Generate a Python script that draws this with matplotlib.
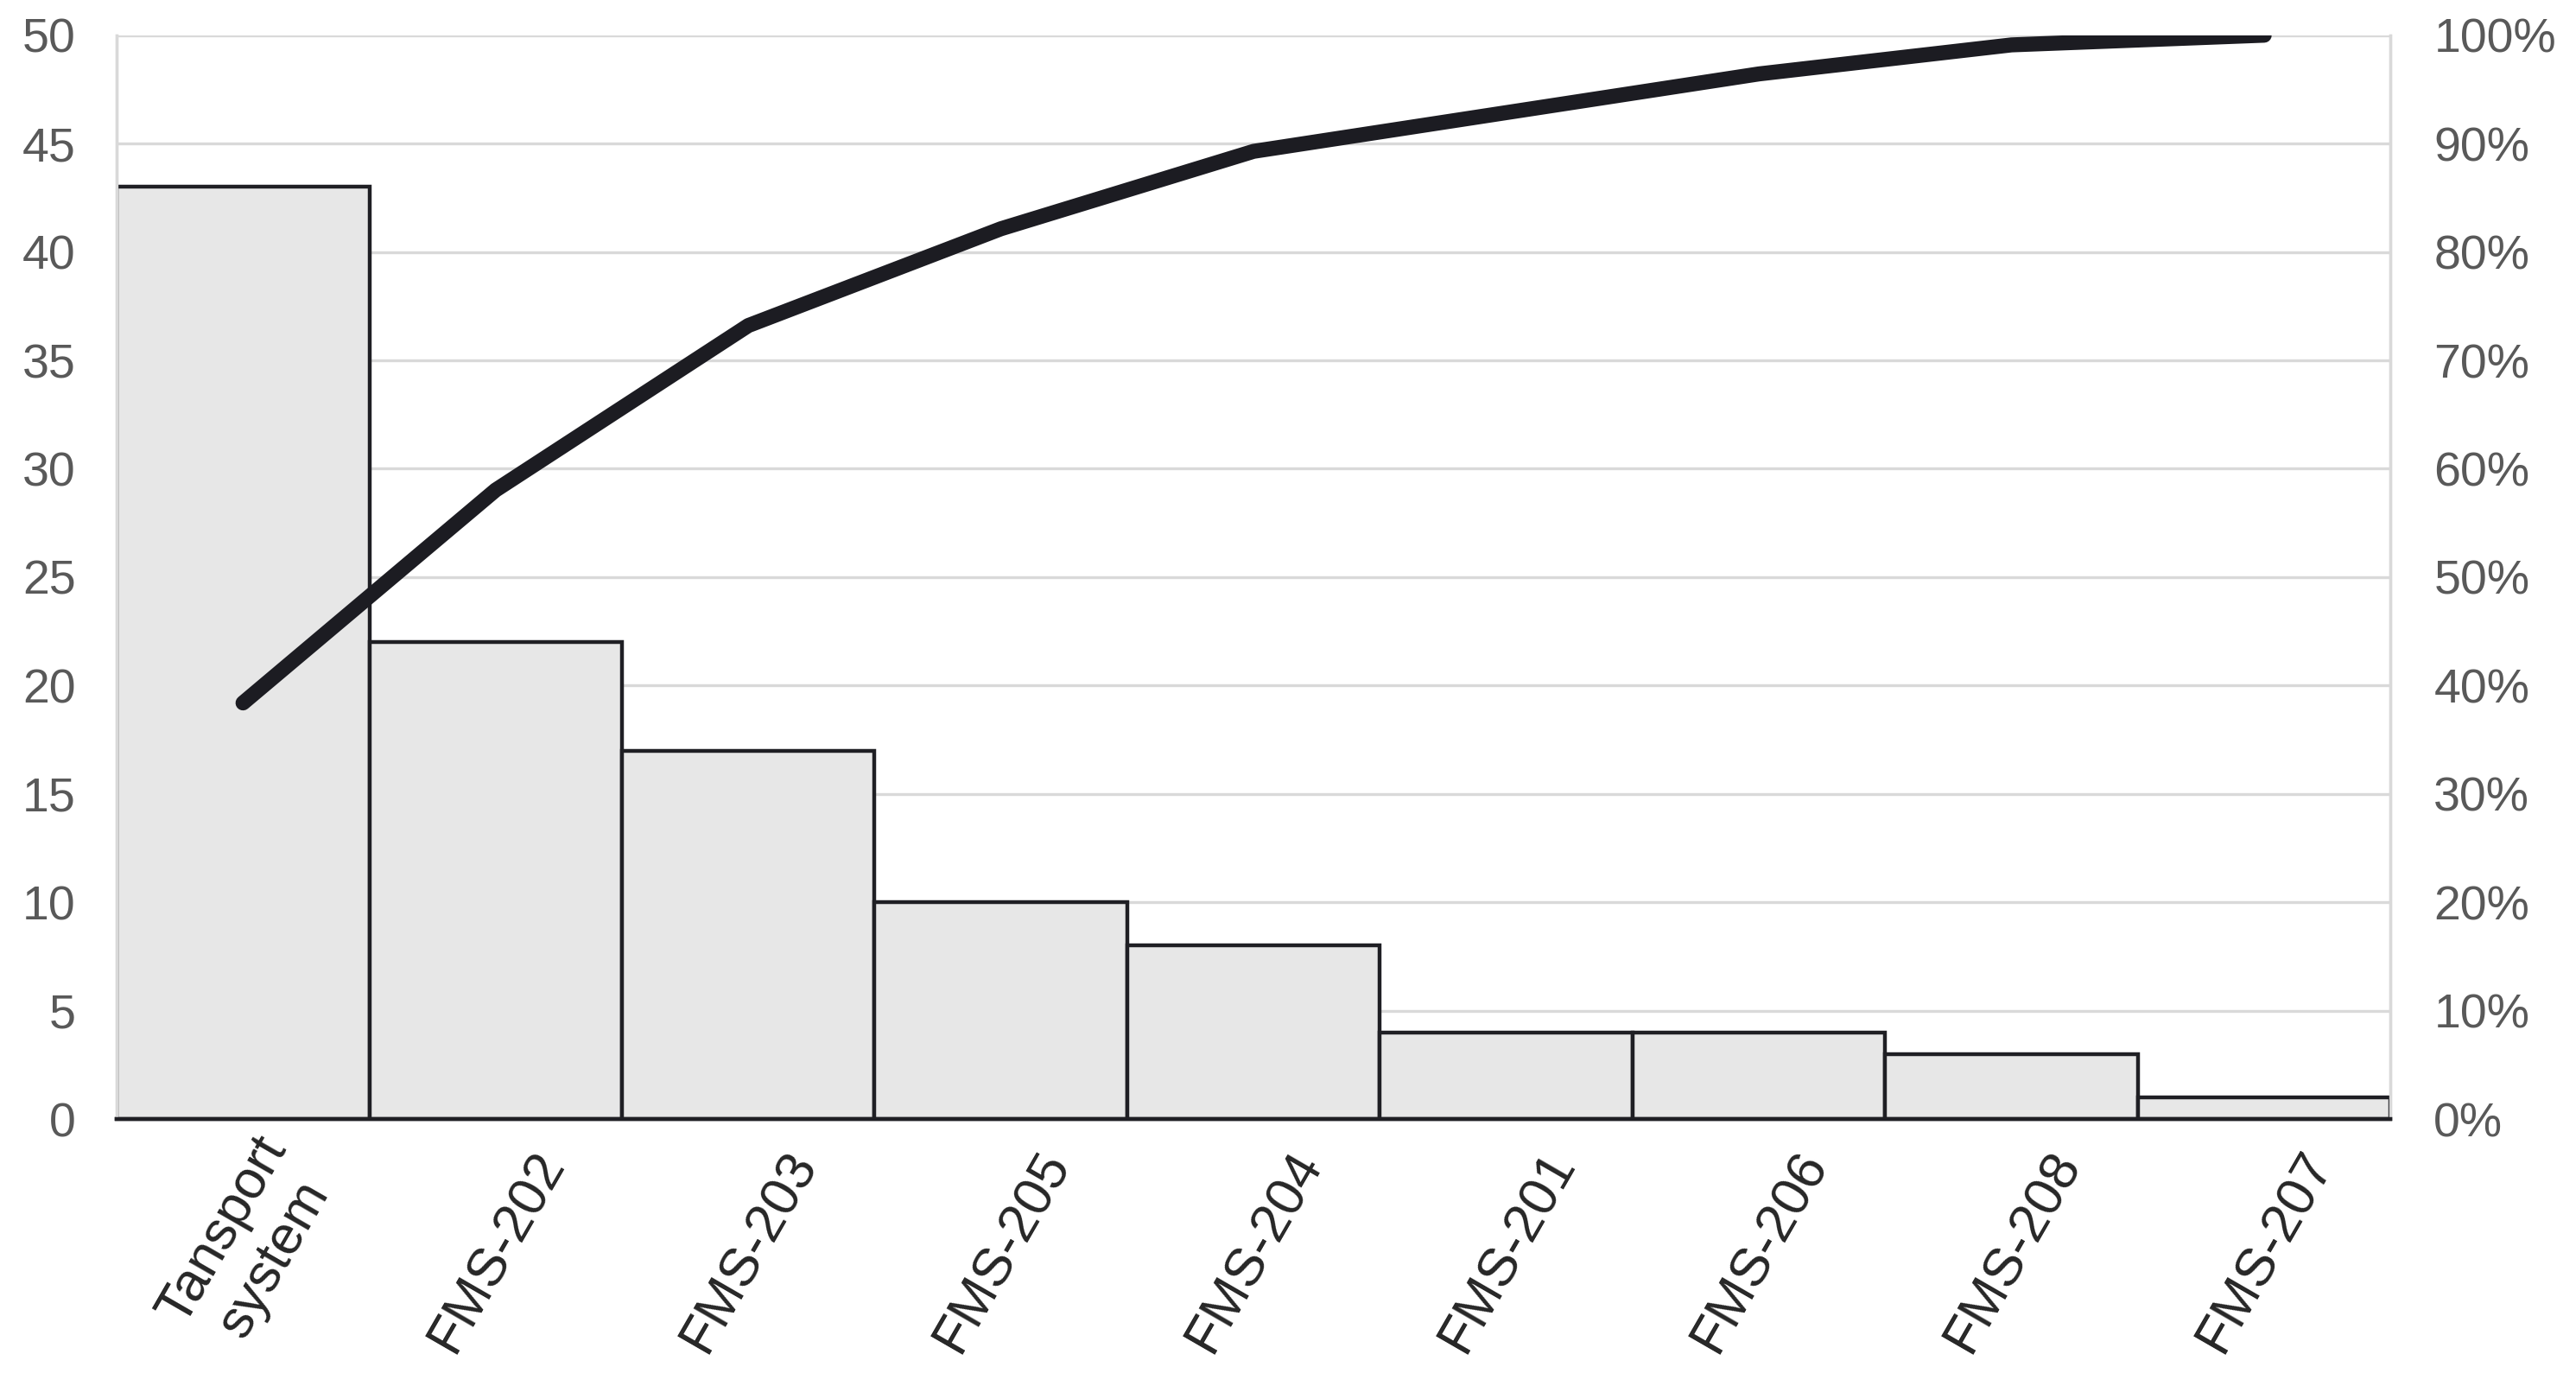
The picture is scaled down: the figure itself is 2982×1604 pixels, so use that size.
import matplotlib.pyplot as plt
from matplotlib.ticker import PercentFormatter
from matplotlib.transforms import ScaledTranslation
import numpy as np

plt.rcParams['font.family'] = ['Liberation Sans', 'DejaVu Sans']

# pareto data
kategoriler = ["Tansport\nsystem", "FMS-202", "FMS-203", "FMS-205", "FMS-204",
               "FMS-201", "FMS-206", "FMS-208", "FMS-207"]
adet = [43, 22, 17, 10, 8, 4, 4, 3, 1]
kumulatif = np.cumsum(adet) / sum(adet)

fig = plt.figure(figsize=(29.82, 16.04), dpi=100)
ax = fig.add_axes([0.0453, 0.1926, 0.8827, 0.782])
ax2 = ax.twinx()

x = np.arange(len(adet))
ax.bar(x, adet, width=1.0, color="#e7e7e7", edgecolor="#1f1f24", linewidth=3.2, zorder=3)
ax.set_xlim(-0.5, len(adet) - 0.5)
ax.set_ylim(0, 50)
ax.set_yticks(range(0, 51, 5))
ax.grid(axis="y", color="#d9d9d9", linewidth=2.4, zorder=0)
ax.set_axisbelow(True)

ax2.plot(x, kumulatif, color="#1c1c22", linewidth=12.5, solid_capstyle="round", zorder=5)
ax2.set_ylim(0, 1)
ax2.set_yticks(np.arange(0, 1.01, 0.1))
ax2.yaxis.set_major_formatter(PercentFormatter(1.0, decimals=0))

for a in (ax, ax2):
    a.spines["top"].set_visible(False)
    a.spines["left"].set_color("#d9d9d9")
    a.spines["right"].set_color("#d9d9d9")
    a.spines["left"].set_linewidth(2.4)
    a.spines["right"].set_linewidth(2.4)
    a.spines["bottom"].set_color("#1f1f24")
    a.spines["bottom"].set_linewidth(3.2)

ax.tick_params(axis="y", length=0, pad=34, labelsize=40, labelcolor="#595959")
ax2.tick_params(axis="y", length=0, pad=36, labelsize=40, labelcolor="#595959")
ax.set_xticks(x)
ax.set_xticklabels(kategoriler, rotation=60, ha="right", va="center",
                   rotation_mode="anchor", multialignment="center")
ax.tick_params(axis="x", length=0, pad=30, labelsize=45, labelcolor="#262626")

# labels sit a bit right of the bar centres
kaydir = ScaledTranslation(0.66, 0, fig.dpi_scale_trans)
for lbl in ax.get_xticklabels():
    lbl.set_transform(lbl.get_transform() + kaydir)

fig.savefig("out.png", dpi=100)
